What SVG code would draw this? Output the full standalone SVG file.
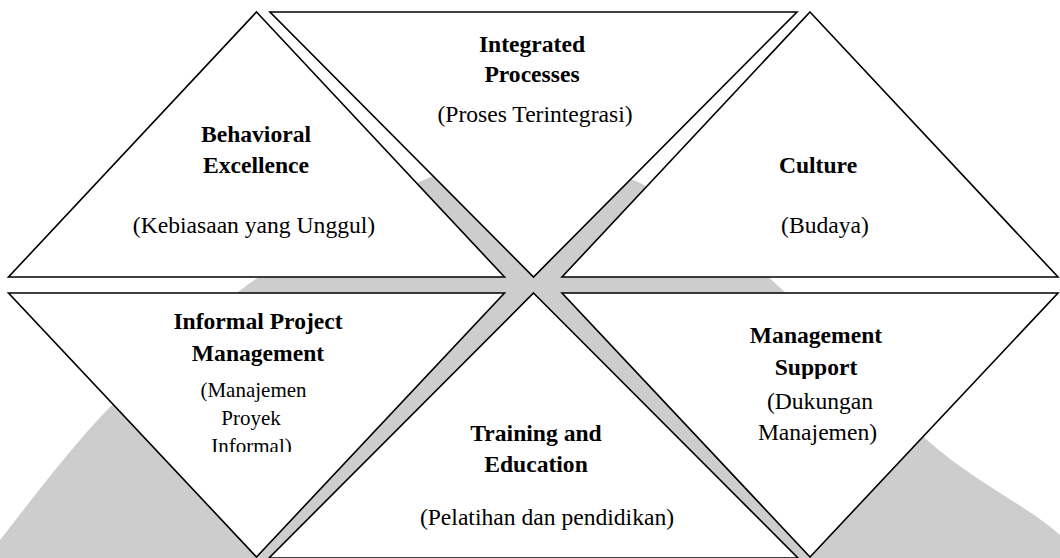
<svg xmlns="http://www.w3.org/2000/svg" width="1060" height="558" viewBox="0 0 1060 558">
  <defs>
    <style>
      .tri { fill: #ffffff; stroke: #000000; stroke-width: 1.6; stroke-linejoin: miter; }
      .b { font-family: "Liberation Serif", "Times New Roman", serif; font-weight: bold; font-size: 23.6px; fill: #000; text-anchor: middle; }
      .r { font-family: "Liberation Serif", "Times New Roman", serif; font-size: 23.6px; fill: #000; text-anchor: middle; }
      .s { font-family: "Liberation Serif", "Times New Roman", serif; font-size: 21px; fill: #000; text-anchor: middle; }
    </style>
    <clipPath id="clipInformal"><rect x="0" y="290" width="540" height="162"/></clipPath>
    <clipPath id="clipSupport"><rect x="560" y="290" width="500" height="89"/></clipPath>
  </defs>
  <rect x="0" y="0" width="1060" height="558" fill="#ffffff"/>
  <g id="watermark">
    <path fill="#cdcdcd" d="M0,558 L0,540 C28.3,504.5 68.3,449.8 110,407 C151.7,364.2 196.2,321.5 250,283 C303.8,244.5 386.3,195.5 433,176 C470,162 500,166 530,166 C563.8,166.8 600,168 636,181 C676.8,200.5 726.5,239.8 775,283 C823.5,326.2 879.5,398 927,440 C974.5,482 1026.2,505 1060,535 L1060,558 Z"/>
  </g>
  <g id="connectors"></g>
  <g id="behavioral-excellence">
    <polygon class="tri" points="256.5,12 504.5,277 8.5,277"/>
    <text class="b" x="256" y="142">Behavioral</text>
    <text class="b" x="256" y="173">Excellence</text>
    <text class="r" x="254" y="233">(Kebiasaan yang Unggul)</text>
  </g>
  <g id="integrated-processes">
    <polygon class="tri" points="270,12 797,12 533.5,277"/>
    <text class="b" x="532" y="52">Integrated</text>
    <text class="b" x="532" y="82">Processes</text>
    <text class="r" x="535" y="122">(Proses Terintegrasi)</text>
  </g>
  <g id="culture">
    <polygon class="tri" points="810,12 1058,277 562,277"/>
    <text class="b" x="818" y="173">Culture</text>
    <text class="r" x="825" y="233">(Budaya)</text>
  </g>
  <g id="informal-project-management">
    <polygon class="tri" points="8.5,293 504.5,293 256.5,557"/>
    <text class="b" x="258" y="329">Informal Project</text>
    <text class="b" x="258" y="361">Management</text>
    <g clip-path="url(#clipInformal)">
      <text class="s" x="253.5" y="397">(Manajemen</text>
      <text class="s" x="251" y="425">Proyek</text>
      <text class="s" x="251.5" y="453">Informal)</text>
    </g>
  </g>
  <g id="training-and-education">
    <polygon class="tri" points="533.5,293 798,558 269,558"/>
    <text class="b" x="536" y="441">Training and</text>
    <text class="b" x="536" y="472">Education</text>
    <text class="r" x="547" y="525">(Pelatihan dan pendidikan)</text>
  </g>
  <g id="management-support">
    <polygon class="tri" points="562,293 1058,293 810,557"/>
    <text class="b" x="816" y="343">Management</text>
    <g clip-path="url(#clipSupport)">
      <text class="b" x="816" y="375">Support</text>
    </g>
    <text class="r" x="820" y="409">(Dukungan</text>
    <text class="r" x="817.5" y="440">Manajemen)</text>
  </g>
</svg>
